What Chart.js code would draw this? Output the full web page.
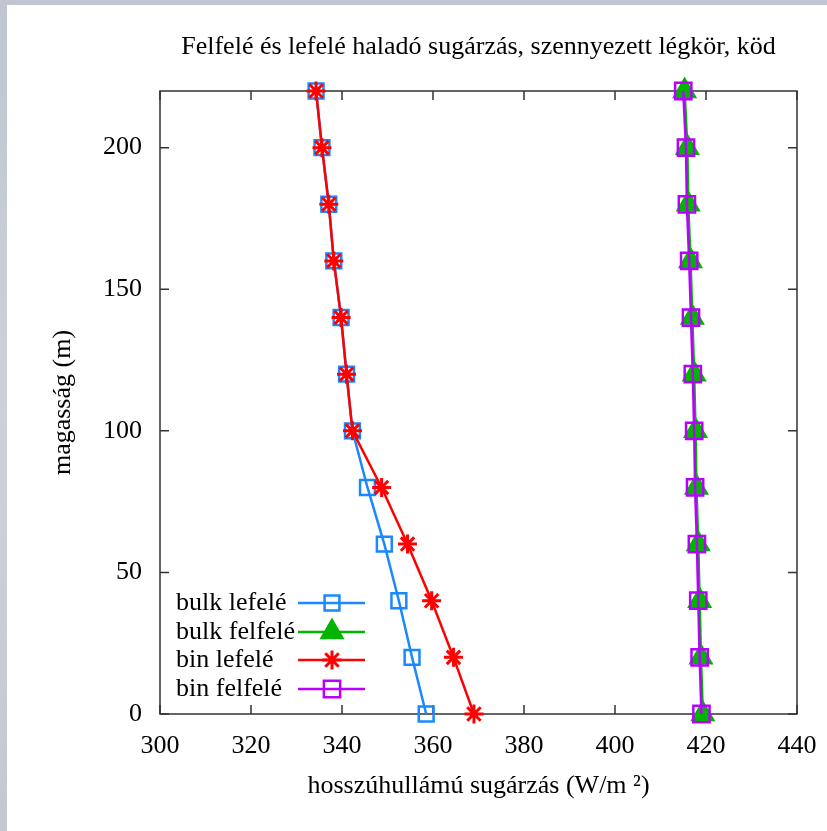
<!DOCTYPE html>
<html>
<head>
<meta charset="utf-8">
<script src="https://cdn.jsdelivr.net/npm/chart.js@4.4.1/dist/chart.umd.min.js"></script>
<style>
  html, body { margin: 0; padding: 0; }
  body {
    width: 827px; height: 831px; position: relative; overflow: hidden;
    background: linear-gradient(180deg, #bfc6d2 0%, #cdd1d8 50%, #c4c9d1 100%);
  }
  #panel { position: absolute; left: 7px; top: 5px; right: 0; bottom: 0; background: #fff; }
  #chart { position: absolute; left: 0; top: 0; }
</style>
</head>
<body>
<div id="panel"></div>
<canvas id="chart" width="827" height="831"></canvas>
<script>
// magasság (m)
const heights = [0, 20, 40, 60, 80, 100, 120, 140, 160, 180, 200, 220];

// hosszúhullámú sugárzás (W/m2)
const bulkDown = [358.5, 355.4, 352.5, 349.3, 345.6, 342.3, 341.0, 339.8, 338.2, 337.1, 335.6, 334.3];
const bulkUp   = [419.3, 418.9, 418.6, 418.3, 417.9, 417.7, 417.4, 417.0, 416.6, 416.1, 415.9, 415.3];
const binDown  = [369.0, 364.5, 359.7, 354.4, 348.7, 342.3, 341.0, 339.8, 338.2, 337.1, 335.6, 334.3];
const binUp    = [419.0, 418.6, 418.3, 418.0, 417.6, 417.4, 417.1, 416.7, 416.3, 415.8, 415.6, 415.0];

const seriesNames = ["bulk lefelé", "bulk felfelé", "bin lefelé", "bin felfelé"];
const chartTitle = "Felfelé és lefelé haladó sugárzás, szennyezett légkör, köd";
const xTitle = "hosszúhullámú sugárzás (W/m ²)";
const yTitle = "magasság (m)";

const FONT = "'Liberation Serif', 'Times New Roman', serif";
Chart.defaults.font.family = FONT;
Chart.defaults.color = "#000";

const toPoints = (vals) => vals.map((v, i) => ({ x: v, y: heights[i] }));

function makeSet(label, vals, color, style, radius, filled, order) {
  return {
    label: label,
    data: toPoints(vals),
    showLine: true,
    borderColor: color,
    borderWidth: 2.5,
    pointStyle: style,
    pointRadius: radius,
    pointHoverRadius: radius,
    pointBorderColor: color,
    pointBackgroundColor: filled ? color : "rgba(0,0,0,0)",
    pointBorderWidth: style === "star" ? 3 : 2.5,
    order: order,
    clip: false,
  };
}

// frame + inward ticks on all four sides (gnuplot look)
const framePlugin = {
  id: "frame",
  beforeDatasetsDraw(chart) {
    const { ctx, chartArea: a, scales } = chart;
    const tl = 9;
    ctx.save();
    ctx.strokeStyle = "#333";
    ctx.lineWidth = 1.5;
    ctx.strokeRect(a.left, a.top, a.right - a.left, a.bottom - a.top);
    ctx.beginPath();
    scales.x.ticks.forEach((t) => {
      const px = scales.x.getPixelForValue(t.value);
      ctx.moveTo(px, a.bottom); ctx.lineTo(px, a.bottom - tl);
      ctx.moveTo(px, a.top); ctx.lineTo(px, a.top + tl);
    });
    scales.y.ticks.forEach((t) => {
      const py = scales.y.getPixelForValue(t.value);
      ctx.moveTo(a.left, py); ctx.lineTo(a.left + tl, py);
      ctx.moveTo(a.right, py); ctx.lineTo(a.right - tl, py);
    });
    ctx.stroke();
    ctx.restore();
  },
  afterDraw(chart) {
    const { ctx, chartArea: a } = chart;
    ctx.save();
    ctx.fillStyle = "#000";
    ctx.font = "26px " + FONT;
    ctx.textAlign = "center";
    ctx.textBaseline = "middle";
    ctx.fillText(chartTitle, (a.left + a.right) / 2, 47);

    // legend inside the plot, text left, sample line + marker right
    const rows = [603, 632, 660, 689];
    chart.data.datasets.forEach((ds, i) => {
      const y = rows[i];
      ctx.textAlign = "left";
      ctx.fillStyle = "#000";
      ctx.fillText(ds.label, 176, y);
      ctx.strokeStyle = ds.borderColor;
      ctx.lineWidth = ds.borderWidth;
      ctx.beginPath();
      ctx.moveTo(298, y); ctx.lineTo(365, y);
      ctx.stroke();
      ctx.fillStyle = ds.pointBackgroundColor;
      ctx.strokeStyle = ds.pointBorderColor;
      ctx.lineWidth = ds.pointBorderWidth;
      Chart.helpers.drawPoint(ctx, {
        pointStyle: ds.pointStyle, radius: ds.pointRadius, rotation: 0, borderWidth: ds.pointBorderWidth
      }, 332, y);
    });
    ctx.restore();
  }
};

new Chart(document.getElementById("chart"), {
  type: "scatter",
  data: {
    datasets: [
      makeSet(seriesNames[0], bulkDown, "#1a88ff", "rect", 10.5, false, 4),
      makeSet(seriesNames[1], bulkUp, "#00b400", "triangle", 12, true, 3),
      makeSet(seriesNames[2], binDown, "#ff0000", "star", 9.5, false, 2),
      makeSet(seriesNames[3], binUp, "#b800ff", "rect", 11.5, false, 1),
    ],
  },
  options: {
    responsive: false,
    animation: false,
    layout: { padding: { top: 91, right: 30, left: 0, bottom: 0 } },
    plugins: {
      legend: { display: false },
      tooltip: { enabled: false },
    },
    scales: {
      x: {
        type: "linear",
        min: 300,
        max: 440,
        ticks: { stepSize: 20, includeBounds: false, padding: 17, font: { size: 26 }, color: "#000" },
        grid: { display: false, drawTicks: false },
        border: { display: false },
        title: { display: true, text: xTitle, font: { size: 26 }, color: "#000", padding: { top: 0, bottom: 29 } },
        afterFit(s) { s.height = 117; s.paddingLeft = 0; s.paddingRight = 0; },
      },
      y: {
        type: "linear",
        min: 0,
        max: 220,
        ticks: { stepSize: 50, includeBounds: false, padding: 18, font: { size: 26 }, color: "#000" },
        grid: { display: false, drawTicks: false },
        border: { display: false },
        title: { display: true, text: yTitle, font: { size: 26 }, color: "#000", padding: { top: 48, bottom: 0 } },
        afterFit(s) { s.width = 160; s.paddingTop = 0; s.paddingBottom = 0; },
      },
    },
  },
  plugins: [framePlugin],
});
</script>
</body>
</html>
